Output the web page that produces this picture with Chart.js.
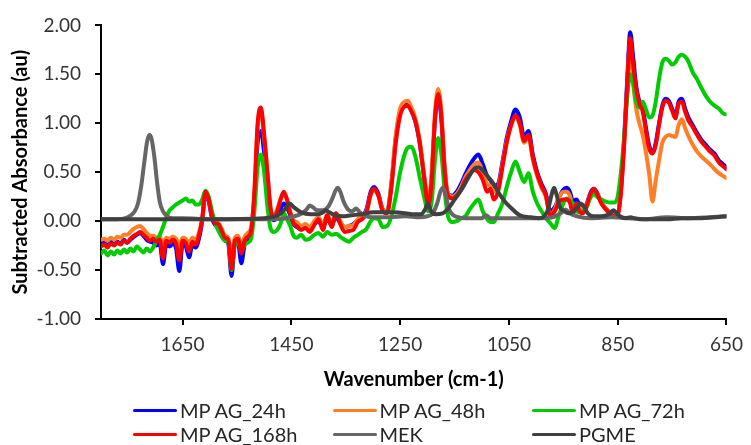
<!DOCTYPE html>
<html>
<head>
<meta charset="utf-8">
<title>Subtracted absorbance spectra</title>
<script src="https://cdn.jsdelivr.net/npm/chart.js@4.4.1/dist/chart.umd.min.js"></script>
<style>
  body { margin: 0; background: #fff; }
  #wrap { position: relative; width: 751px; height: 445px; }
  #legend { position: absolute; left: 0; top: 0; width: 751px; height: 445px; pointer-events: none;
            font: 20px Lato, sans-serif; color: #262626; }
  .item { position: absolute; display: flex; align-items: center; height: 24px; white-space: nowrap; }
  .swatch { width: 44px; height: 3px; border-radius: 2px; margin-right: 3px; }
</style>
</head>
<body>
<div id="wrap">
  <canvas id="spectra" width="751" height="445"></canvas>
  <div id="legend"></div>
</div>
<script>
// shared wavenumber grid (cm-1) for the four MP AG samples
const wavenumbers = [
  1800,1794,1788,1782,1776,1770,1764,1758,1752,1746,
  1740,1734,1728,1722,1716,1710,1704,1698,1692,1686,
  1680,1674,1668,1662,1656,1650,1644,1638,1632,1626,
  1620,1614,1608,1602,1596,1590,1584,1578,1572,1566,
  1560,1554,1548,1542,1536,1530,1524,1518,1512,1506,
  1500,1494,1488,1482,
  1476,1470,1464,1458,1452,1446,1440,1432,1424,1416,
  1408,1400,1392,1384,1376,1368,1360,1352,1344,1336,
  1328,1320,1312,1304,1298,1290,1282,1274,1266,1258,
  1250,1242,1236,1230,1222,1214,1206,1198,1192,1186,
  1180,1174,1168,1162,1154,1146,1138,1130,1122,1114,
  1106,1098,1090,1084,1078,1070,1062,1054,1046,1038,
  1030,1022,1014,1006,998,990,982,974,966,958,
  950,944,938,932,926,920,914,908,900,894,
  888,880,872,864,856,850,844,838,832,827,
  822,816,810,804,798,792,786,780,774,768,
  762,756,750,744,738,732,726,720,712,704,
  696,688,680,672,664,656,650
];

const ag24h = [
  -0.23,-0.22,-0.25,-0.21,-0.24,-0.21,-0.23,-0.19,-0.22,-0.19,
  -0.16,-0.14,-0.12,-0.15,-0.19,-0.21,-0.22,-0.25,-0.23,-0.44,
  -0.24,-0.26,-0.23,-0.28,-0.51,-0.24,-0.26,-0.37,-0.24,-0.27,
  -0.18,0.00,0.28,0.20,0.03,-0.04,-0.06,-0.13,-0.20,-0.23,
  -0.56,-0.24,-0.22,-0.43,-0.24,-0.19,-0.12,0.22,0.80,0.92,
  0.70,0.40,0.09,0.01,
  0.05,0.12,0.18,0.14,0.06,-0.03,-0.06,-0.08,-0.06,-0.09,
  -0.03,0.00,-0.06,0.02,-0.04,0.04,-0.02,-0.06,-0.05,-0.03,
  0.01,0.04,0.12,0.30,0.35,0.28,0.12,0.10,0.38,0.85,
  1.12,1.20,1.20,1.14,1.02,0.80,0.46,0.17,0.45,1.03,
  1.28,1.03,0.52,0.28,0.26,0.30,0.38,0.48,0.57,0.64,
  0.68,0.58,0.46,0.42,0.36,0.38,0.60,0.85,1.02,1.14,
  1.06,0.86,0.92,0.68,0.50,0.38,0.28,0.10,0.14,0.24,
  0.32,0.34,0.30,0.20,0.22,0.16,0.12,0.16,0.29,0.33,
  0.29,0.19,0.13,0.09,0.06,0.07,0.32,0.85,1.50,1.93,
  1.70,1.38,1.22,1.15,0.95,0.77,0.70,0.80,1.00,1.18,
  1.25,1.23,1.15,1.07,1.22,1.25,1.15,1.06,0.98,0.90,
  0.83,0.78,0.73,0.69,0.62,0.58,0.55
];

const ag48h = [
  -0.19,-0.18,-0.20,-0.17,-0.19,-0.16,-0.17,-0.14,-0.14,-0.11,
  -0.08,-0.06,-0.05,-0.08,-0.12,-0.15,-0.15,-0.17,-0.16,-0.22,
  -0.17,-0.18,-0.16,-0.18,-0.25,-0.17,-0.18,-0.22,-0.17,-0.19,
  -0.12,0.02,0.28,0.22,0.06,0.00,-0.02,-0.08,-0.15,-0.17,
  -0.35,-0.17,-0.15,-0.25,-0.16,-0.12,-0.06,0.28,0.95,1.12,
  0.85,0.48,0.12,0.06,
  0.12,0.22,0.28,0.22,0.10,0.01,-0.01,-0.05,-0.03,-0.06,
  0.00,0.04,-0.04,0.07,-0.02,0.08,0.00,-0.06,-0.05,-0.04,
  0.02,0.04,0.10,0.27,0.31,0.26,0.12,0.10,0.40,0.88,
  1.15,1.22,1.23,1.17,1.05,0.82,0.48,0.19,0.50,1.10,
  1.35,1.10,0.55,0.28,0.25,0.28,0.35,0.45,0.52,0.58,
  0.60,0.50,0.38,0.36,0.30,0.34,0.57,0.82,0.98,1.06,
  0.98,0.80,0.86,0.63,0.46,0.34,0.25,0.06,0.12,0.24,
  0.30,0.30,0.26,0.14,0.18,0.14,0.12,0.16,0.27,0.31,
  0.28,0.19,0.13,0.09,0.06,0.07,0.30,0.80,1.42,1.82,
  1.45,1.15,1.00,0.88,0.70,0.48,0.20,0.42,0.62,0.80,
  0.86,0.88,0.87,0.86,0.98,1.04,0.95,0.87,0.78,0.71,
  0.66,0.62,0.58,0.53,0.49,0.46,0.44
];

const ag72h = [
  -0.33,-0.30,-0.35,-0.31,-0.34,-0.30,-0.33,-0.29,-0.32,-0.28,
  -0.31,-0.26,-0.29,-0.32,-0.28,-0.31,-0.27,-0.20,-0.14,-0.06,
  0.04,0.11,0.14,0.17,0.19,0.21,0.23,0.20,0.21,0.17,
  0.17,0.22,0.31,0.25,0.10,-0.02,-0.10,-0.16,-0.20,-0.22,
  -0.50,-0.24,-0.22,-0.30,-0.24,-0.22,-0.18,0.10,0.55,0.68,
  0.50,0.15,-0.08,-0.11,
  -0.09,-0.03,0.08,0.02,-0.05,-0.15,-0.17,-0.14,-0.19,-0.18,
  -0.14,-0.12,-0.16,-0.11,-0.14,-0.13,-0.16,-0.19,-0.21,-0.17,
  -0.14,-0.11,-0.08,0.00,0.03,0.02,-0.06,-0.05,0.05,0.25,
  0.50,0.68,0.75,0.76,0.66,0.45,0.25,0.10,0.20,0.62,
  0.85,0.68,0.30,0.05,-0.01,0.00,0.03,0.05,0.12,0.18,
  0.22,0.10,0.02,-0.01,-0.01,0.08,0.18,0.35,0.50,0.61,
  0.50,0.40,0.49,0.30,0.18,0.10,0.03,-0.02,-0.07,0.06,
  0.18,0.23,0.21,0.18,0.10,0.09,0.10,0.13,0.24,0.28,
  0.25,0.22,0.20,0.19,0.19,0.25,0.50,0.86,1.30,1.50,
  1.42,1.22,1.16,1.22,1.14,1.06,1.08,1.22,1.45,1.62,
  1.66,1.64,1.60,1.62,1.68,1.70,1.68,1.63,1.52,1.45,
  1.36,1.28,1.22,1.18,1.15,1.10,1.09
];

const ag168h = [
  -0.26,-0.24,-0.27,-0.23,-0.25,-0.22,-0.24,-0.20,-0.22,-0.18,
  -0.15,-0.13,-0.11,-0.14,-0.17,-0.20,-0.18,-0.21,-0.19,-0.38,
  -0.20,-0.22,-0.19,-0.23,-0.40,-0.20,-0.22,-0.31,-0.21,-0.24,
  -0.15,0.02,0.30,0.22,0.05,-0.02,-0.03,-0.10,-0.17,-0.19,
  -0.49,-0.20,-0.18,-0.33,-0.20,-0.16,-0.10,0.30,1.00,1.16,
  0.88,0.50,0.12,0.03,
  0.10,0.22,0.30,0.22,0.08,-0.02,-0.05,-0.09,-0.07,-0.11,
  -0.04,0.02,-0.09,0.06,-0.06,0.08,-0.03,-0.11,-0.10,-0.09,
  -0.01,0.02,0.08,0.28,0.33,0.26,0.10,0.08,0.35,0.80,
  1.08,1.17,1.18,1.13,1.02,0.80,0.45,0.16,0.42,1.05,
  1.30,1.05,0.50,0.26,0.23,0.26,0.32,0.42,0.48,0.52,
  0.50,0.42,0.30,0.33,0.22,0.30,0.55,0.80,0.98,1.08,
  1.00,0.82,0.88,0.65,0.48,0.36,0.26,0.05,0.10,0.19,
  0.22,0.22,0.19,0.07,0.18,0.10,0.08,0.14,0.28,0.33,
  0.28,0.18,0.12,0.08,0.05,0.06,0.30,0.80,1.45,1.87,
  1.62,1.35,1.20,1.12,0.92,0.74,0.69,0.78,0.98,1.16,
  1.23,1.21,1.13,1.05,1.20,1.22,1.12,1.03,0.96,0.88,
  0.81,0.76,0.71,0.67,0.60,0.56,0.53
];

// reference solvents, on their own grids
const mekWn = [
  1800,1770,1755,1745,1738,1732,1726,1720,1715,1711,1707,1702,1697,1692,1686,1678,1668,1650,1600,1520,
  1480,1450,1430,1422,1416,1410,1402,1392,1382,1374,1369,1365,1360,1354,1346,1338,1331,1324,1314,1300,
  1270,1240,1215,1200,1190,1182,1176,1171,1166,1160,1152,1144,1130,1100,1092,1084,1060,1000,970,955,
  946,938,925,900,860,830,800,760,720,680,650
];
const mekAbs = [
  0.02,0.02,0.03,0.06,0.10,0.18,0.36,0.62,0.82,0.88,0.84,0.66,0.40,0.20,0.10,0.05,0.03,0.03,0.02,0.02,
  0.02,0.04,0.08,0.12,0.16,0.14,0.11,0.11,0.15,0.24,0.31,0.34,0.30,0.20,0.12,0.10,0.13,0.09,0.05,0.04,
  0.04,0.05,0.04,0.05,0.08,0.18,0.30,0.34,0.26,0.12,0.06,0.04,0.03,0.03,0.06,0.03,0.03,0.03,0.04,0.08,
  0.12,0.08,0.05,0.03,0.04,0.03,0.02,0.04,0.03,0.04,0.05
];

const pgmeWn = [
  1800,1600,1500,1475,1462,1453,1445,1432,1415,1400,1392,1387,1380,1370,1355,1340,1320,1300,1280,1260,
  1240,1225,1212,1204,1199,1193,1185,1172,1160,1150,1140,1133,1124,1116,1109,1102,1095,1088,1082,1076,
  1070,1064,1056,1045,1030,1010,995,985,978,972,967,962,956,948,940,932,924,918,912,905,
  895,880,866,858,853,846,836,826,820,810,790,760,730,700,670,650
];
const pgmeAbs = [
  0.02,0.02,0.03,0.06,0.12,0.18,0.14,0.09,0.07,0.07,0.09,0.11,0.09,0.06,0.05,0.06,0.07,0.09,0.09,0.09,
  0.08,0.07,0.07,0.12,0.18,0.10,0.07,0.08,0.14,0.22,0.30,0.36,0.45,0.52,0.55,0.54,0.50,0.45,0.41,0.36,
  0.30,0.25,0.19,0.13,0.06,0.04,0.03,0.05,0.12,0.26,0.34,0.26,0.14,0.10,0.08,0.10,0.14,0.18,0.15,0.08,
  0.05,0.05,0.07,0.11,0.09,0.05,0.03,0.04,0.03,0.02,0.02,0.02,0.03,0.03,0.04,0.05
];

const xTicks = [1650, 1450, 1250, 1050, 850, 650];
const yTicks = [-1, -0.5, 0, 0.5, 1, 1.5, 2];

const series = [
  { label: 'MP AG_24h',  color: '#0000ff', wn: wavenumbers, abs: ag24h },
  { label: 'MP AG_48h',  color: '#ff7f27', wn: wavenumbers, abs: ag48h },
  { label: 'MP AG_72h',  color: '#00cc00', wn: wavenumbers, abs: ag72h },
  { label: 'MP AG_168h', color: '#ff0000', wn: wavenumbers, abs: ag168h },
  { label: 'MEK',        color: '#666666', wn: mekWn,       abs: mekAbs },
  { label: 'PGME',       color: '#404040', wn: pgmeWn,      abs: pgmeAbs }
];

Chart.defaults.font.family = 'Lato, sans-serif';

const chart = new Chart(document.getElementById('spectra'), {
  type: 'line',
  data: {
    datasets: series.map((s, i) => ({
      label: s.label,
      data: s.wn.map((x, j) => ({ x: x, y: s.abs[j] })),
      borderColor: s.color,
      backgroundColor: s.color,
      order: series.length - i   // later series sit on top
    }))
  },
  options: {
    responsive: false,
    animation: false,
    layout: { padding: { top: 20, right: 11, bottom: 0, left: 0 } },
    elements: {
      point: { radius: 0 },
      line: { borderWidth: 4, cubicInterpolationMode: 'monotone', borderCapStyle: 'round', borderJoinStyle: 'round' }
    },
    plugins: { legend: { display: false }, tooltip: { enabled: false } },
    scales: {
      x: {
        type: 'linear',
        reverse: true,
        min: 650,
        max: 1800,
        afterBuildTicks: s => { s.ticks = xTicks.map(v => ({ value: v })); },
        afterFit: s => { s.height = 126; },
        border: { color: '#000', width: 2 },
        grid: { drawOnChartArea: false, tickLength: 6, color: '#000', lineWidth: 2 },
        ticks: { color: '#333', font: { size: 19 }, padding: 8, maxRotation: 0, callback: v => String(v) },
        title: {
          display: true, text: 'Wavenumber (cm-1)', color: '#000',
          font: { size: 20, weight: 'bold' }, padding: { top: 0, bottom: 53 }
        }
      },
      y: {
        min: -1,
        max: 2,
        afterBuildTicks: s => { s.ticks = yTicks.map(v => ({ value: v })); },
        afterFit: s => { s.width = 101; },
        border: { color: '#000', width: 2 },
        grid: { drawOnChartArea: false, tickLength: 6, color: '#000', lineWidth: 2 },
        ticks: { color: '#333', font: { size: 19 }, padding: 14, callback: v => v.toFixed(2) },
        title: {
          display: true, text: 'Subtracted Absorbance (au)', color: '#000',
          font: { size: 20, weight: 'bold' }, padding: { top: 9, bottom: 0 }
        }
      }
    }
  }
});

// legend laid out as a 3-column grid under the axis title
const legend = document.getElementById('legend');
series.forEach((s, i) => {
  const item = document.createElement('div');
  item.className = 'item';
  item.style.left = (133 + (i % 3) * 199.5) + 'px';
  item.style.top = (398 + Math.floor(i / 3) * 24) + 'px';
  item.innerHTML = `<span class="swatch" style="background:${s.color}"></span><span>${s.label}</span>`;
  legend.appendChild(item);
});
</script>
</body>
</html>
